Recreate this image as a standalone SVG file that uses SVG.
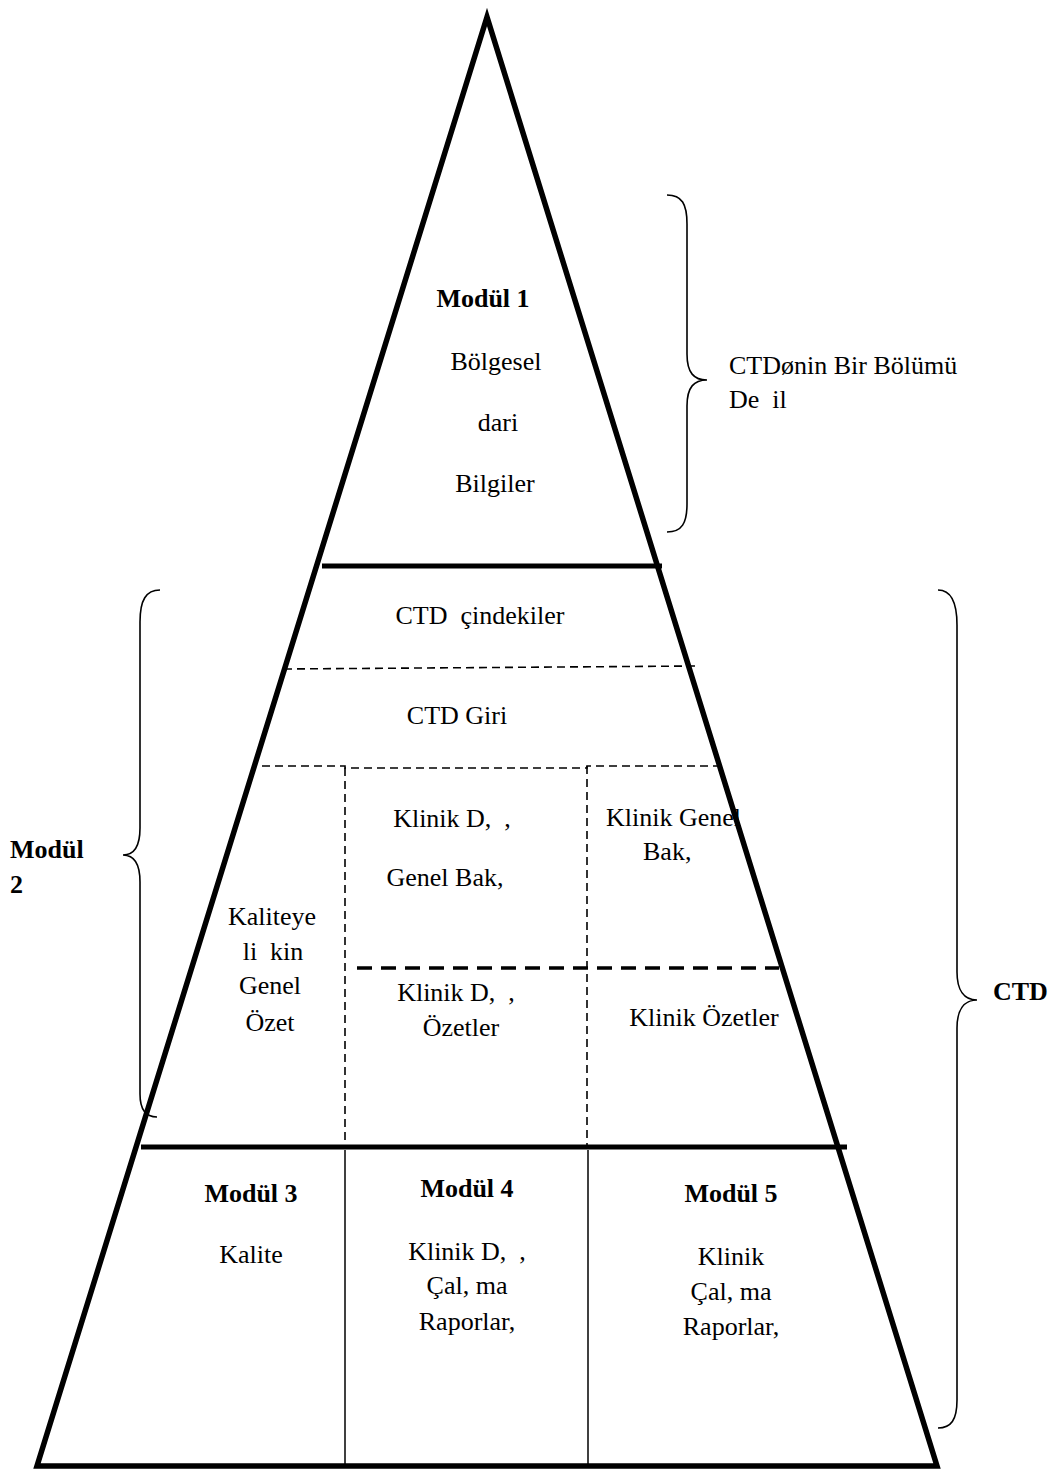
<svg xmlns="http://www.w3.org/2000/svg" width="1055" height="1472" viewBox="0 0 1055 1472">
<style>
text{font-family:'Liberation Serif',Tinos,'DejaVu Serif',serif;font-size:26px;fill:#000}
.b{font-weight:bold}
.m{text-anchor:middle}
.thick{stroke:#000;stroke-width:5;fill:none}
.thin{stroke:#000;stroke-width:1.5;fill:none}
.dash{stroke:#000;stroke-width:1.6;fill:none;stroke-dasharray:8 5}
.dash2{stroke:#000;stroke-width:3.5;fill:none;stroke-dasharray:15 9}
.brace{stroke:#000;stroke-width:1.6;fill:none}
</style>
<rect width="1055" height="1472" fill="#fff"/>
<g id="pyramid">
<polygon points="487,17 37,1466 937,1466" fill="none" stroke="#000" stroke-width="5.5" stroke-linejoin="miter" stroke-miterlimit="10"/>
</g>
<g id="connectors">
<line class="thick" x1="322" y1="566" x2="662" y2="566"/>
<line class="thick" x1="141" y1="1147" x2="847" y2="1147" stroke-width="6"/>
<line class="dash" x1="284" y1="669" x2="697" y2="666"/>
<polyline class="dash" points="262,766 345,766 345,768 587,768 587,766 720,766"/>
<line class="dash" x1="345" y1="768" x2="345" y2="1145"/>
<line class="dash" x1="587" y1="766" x2="587" y2="1145"/>
<line class="dash2" x1="357" y1="968" x2="779" y2="968"/>
<line class="thin" x1="345" y1="1150" x2="345" y2="1464"/>
<line class="thin" x1="588" y1="1150" x2="588" y2="1464"/>
<path class="brace" d="M667,195 C682,195 687,204 687,224 L687,354 C687,373 694,380 707,380 C694,380 687,387 687,406 L687,504 C687,523 682,532 667,532"/>
<path class="brace" d="M160,590 C146,590 140,600 140,622 L140,828 C140,846 134,855 123,855 C134,855 140,864 140,882 L140,1094 C140,1110 146,1117 157,1117"/>
<path class="brace" d="M938,590 C951,590 957,602 957,625 L957,972 C957,990 964,1000 977,1000 C964,1000 957,1010 957,1028 L957,1400 C957,1420 951,1428 938,1428"/>
</g>
<g id="modul1">
<text class="b m" x="483" y="307">Modül 1</text>
<text class="m" x="496" y="370">Bölgesel</text>
<text class="m" x="498" y="431"> dari</text>
<text class="m" x="495" y="492">Bilgiler</text>
</g>
<g id="not-ctd-label">
<text x="729" y="374">CTDønin Bir Bölümü</text>
<text x="729" y="408" xml:space="preserve">De  il</text>
</g>
<g id="ctd-icindekiler">
<text class="m" x="480" y="624" xml:space="preserve">CTD  çindekiler</text>
</g>
<g id="ctd-giris">
<text class="m" x="457" y="724">CTD Giri</text>
</g>
<g id="kalite-ozet">
<text class="m" x="272" y="925">Kaliteye</text>
<text class="m" x="273" y="960" xml:space="preserve">li  kin</text>
<text class="m" x="270" y="994">Genel</text>
<text class="m" x="270" y="1031">Özet</text>
</g>
<g id="klinik-dd-genel">
<text class="m" x="452" y="827" xml:space="preserve">Klinik D,  ,</text>
<text class="m" x="445" y="886">Genel Bak,</text>
</g>
<g id="klinik-genel">
<text x="606" y="826">Klinik Genel</text>
<text x="643" y="860">Bak,</text>
</g>
<g id="klinik-dd-ozet">
<text class="m" x="456" y="1001" xml:space="preserve">Klinik D,  ,</text>
<text class="m" x="461" y="1036">Özetler</text>
</g>
<g id="klinik-ozet">
<text class="m" x="704" y="1026">Klinik Özetler</text>
</g>
<g id="modul2-label">
<text class="b" x="10" y="858">Modül</text>
<text class="b" x="10" y="893">2</text>
</g>
<g id="ctd-label">
<text class="b" x="993" y="1000">CTD</text>
</g>
<g id="modul3">
<text class="b m" x="251" y="1202">Modül 3</text>
<text class="m" x="251" y="1263">Kalite</text>
</g>
<g id="modul4">
<text class="b m" x="467" y="1197">Modül 4</text>
<text class="m" x="467" y="1260" xml:space="preserve">Klinik D,  ,</text>
<text class="m" x="467" y="1294">Çal, ma</text>
<text class="m" x="467" y="1330">Raporlar,</text>
</g>
<g id="modul5">
<text class="b m" x="731" y="1202">Modül 5</text>
<text class="m" x="731" y="1265">Klinik</text>
<text class="m" x="731" y="1300">Çal, ma</text>
<text class="m" x="731" y="1335">Raporlar,</text>
</g>
</svg>
